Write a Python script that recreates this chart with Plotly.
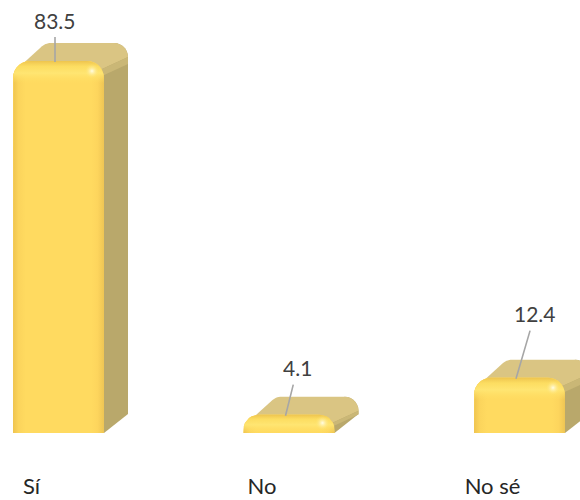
import numpy as np
import plotly.graph_objects as go

categories = ["Sí", "No", "No sé"]
values = [83.5, 4.1, 12.4]
label_text = ["83.5", "4.1", "12.4"]

W, H = 580, 500
PX_X = 230.5          # pixels per category step
PX_Y = 4.455          # pixels per value unit
HALF = 45.5           # half bar width, px
DX, DY = 24, 18       # depth of the extrusion, px
R = 17
MB = 29
x_left = -58.5 / PX_X
x_right = x_left + W / PX_X
y_top = 433 / PX_Y
y_bot = y_top - (H - MB) / PX_Y

X = lambda i, px: i + px / PX_X
Y = lambda v, px: v + px / PX_Y      # px upwards


def arc(cx, cy, r, a0, a1, n=8):
    t = np.radians(np.linspace(a0, a1, n))
    return cx + r * np.cos(t), cy + r * np.sin(t)


def front_outline(h, r=R):
    """Front face outline in px offsets from the bar's centre and baseline."""
    r = min(r, h * 0.8)
    a = HALF
    xl, yl = arc(-a + r, h - r, r, 180, 90)
    xr, yr = arc(a - r, h - r, r, 90, 0)
    xs = np.r_[-a, xl, xr, a, -a]
    ys = np.r_[0, yl, yr, 0, 0]
    return xs, ys


def svg(points):
    return "M " + " L ".join(f"{x},{y}" for x, y in points) + " Z"


fig = go.Figure()
shapes = []

for i, v in enumerate(values):
    a = HALF
    lx, ly = arc(-a + 38, DY - 14, 14, 130, 90)
    rx, ry = arc(a + DX - 14, DY - 14, 14, 90, 0)
    # side face
    side = [(X(i, p), Y(v, q)) for p, q in zip(np.r_[a - 8, rx], np.r_[0, ry])]
    side += [(X(i, a + DX), Y(0, DY + 1)), (X(i, a), Y(0, 0)), (X(i, a - 8), Y(0, 0))]
    shapes.append(dict(type="path", path=svg(side), xref="x", yref="y", layer="below",
                       fillcolor="#b9a86b", line=dict(width=0)))
    # top face
    tp = np.r_[-a + 4, lx, rx, a - 2]
    tq = np.r_[-8, ly, ry, -8]
    top = [(X(i, p), Y(v, q)) for p, q in zip(tp, tq)]
    shapes.append(dict(type="path", path=svg(top), xref="x", yref="y", layer="below",
                       fillcolor="#dac583", line=dict(width=0)))

# front faces: the data bars
fig.add_trace(go.Bar(x=list(range(3)), y=values, width=2 * HALF / PX_X,
                     marker=dict(color="#ffd95f", line=dict(width=0), cornerradius=R),
                     hoverinfo="skip", showlegend=False))

for i, v in enumerate(values):
    h = v * PX_Y
    # soft blend between the top and side faces
    t = min(7, h * 0.2)
    rx = [HALF - 2, HALF + DX, HALF + DX, HALF - 2]
    ry = [-8, DY - 14, DY - 14 - t, -8 - t]
    fig.add_trace(go.Scatter(x=[X(i, p) for p in rx], y=[Y(v, q) for q in ry], mode="lines",
                             fill="toself", fillcolor="#cab776", line=dict(width=0),
                             hoverinfo="skip", showlegend=False))
    # horizontal shading
    xs, ys = front_outline(h)
    fig.add_trace(go.Scatter(
        x=X(i, xs), y=Y(0, ys), mode="lines", line=dict(width=0), fill="toself",
        fillgradient=dict(type="horizontal", colorscale=[
            [0, "#efc44f"], [0.06, "#fbd45c"], [0.14, "#ffda60"], [0.86, "#ffda60"],
            [0.93, "#fdd55d"], [1, "#eec554"]]),
        hoverinfo="skip", showlegend=False))
    # lit band below the top edge
    band = min(22, h)
    keep = ys >= h - band
    bx = np.r_[-HALF, xs[keep], HALF]
    by = np.r_[h - band, ys[keep], h - band]
    fig.add_trace(go.Scatter(
        x=X(i, bx), y=Y(0, by), mode="lines", line=dict(width=0), fill="toself",
        fillgradient=dict(type="vertical", colorscale=[
            [0, "rgba(255,224,100,0)"], [0.45, "rgba(255,230,115,0.95)"],
            [0.75, "rgba(252,222,98,0.85)"], [1, "rgba(238,196,78,1)"]]),
        hoverinfo="skip", showlegend=False))
    # specular spot
    fig.add_trace(go.Scatter(
        x=[X(i, HALF - 12)], y=[Y(v, -min(10, h * 0.45))], mode="markers",
        marker=dict(size=15, color="rgba(255,225,100,0)", line=dict(width=0),
                    gradient=dict(type="radial", color="rgba(255,253,230,1)")),
        hoverinfo="skip", showlegend=False))

label_ax = [0, 12, 19]
label_ay = [-42, -48, -65]
annotations = [
    dict(x=X(i, -3.5), y=Y(v, -1), xref="x", yref="y", text=label_text[i],
         showarrow=True, arrowhead=0, arrowwidth=1.6, arrowcolor="#a6a6a6",
         ax=label_ax[i], ay=label_ay[i], startstandoff=3, standoff=0,
         font=dict(family="Lato, sans-serif", size=21, color="#404040"))
    for i, v in enumerate(values)
]

fig.update_layout(
    width=W, height=H, margin=dict(l=0, r=0, t=0, b=MB, autoexpand=False),
    paper_bgcolor="white", plot_bgcolor="white", shapes=shapes, annotations=annotations,
    xaxis=dict(range=[x_left, x_right], showgrid=False, zeroline=False, showline=False,
               tickmode="array", tickvals=[i - 27 / PX_X for i in range(3)], ticktext=categories,
               ticks="", ticklabelstandoff=0, automargin=False,
               tickfont=dict(family="Lato, sans-serif", size=22, color="#262626")),
    yaxis=dict(range=[y_bot, y_top], visible=False, showgrid=False, zeroline=False),
    showlegend=False,
)

fig.write_html("out.html", config=dict(displayModeBar=False),
               post_script="document.body.style.margin='0';document.documentElement.style.overflow='hidden';")
